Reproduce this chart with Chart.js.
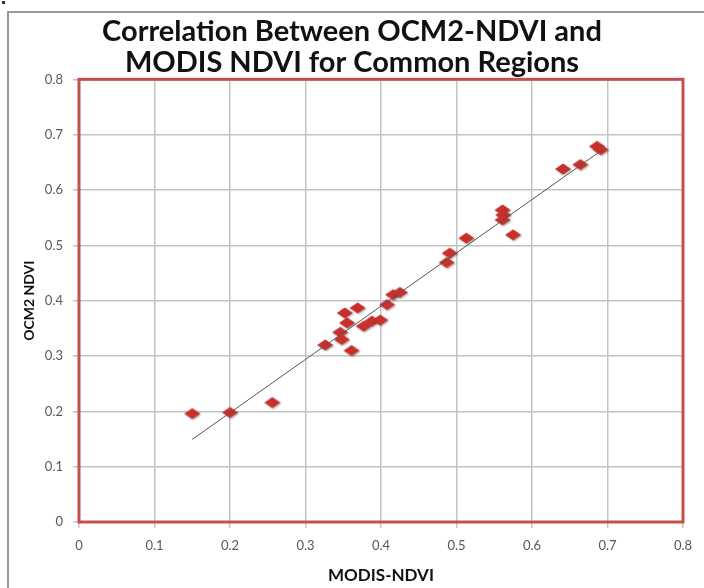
<!DOCTYPE html>
<html>
<head>
<meta charset="utf-8">
<script src="https://cdn.jsdelivr.net/npm/chart.js@4.4.1/dist/chart.umd.min.js"></script>
<style>
  html, body { margin: 0; padding: 0; background: #fff; }
  #wrap { position: relative; width: 704px; height: 588px; overflow: hidden; }
  #frame { position: absolute; left: 7px; top: 11px; width: 720px; height: 600px;
           border-left: 2px solid #9a9a9a; border-top: 2px solid #9a9a9a; }
  #speck { position: absolute; left: 2px; top: 1px; width: 3px; height: 3px; background: #333; }
  canvas { position: absolute; left: 0; top: 0; }
</style>
</head>
<body>
<div id="wrap">
  <div id="speck"></div>
  <div id="frame"></div>
  <canvas id="ndviChart" width="704" height="588"></canvas>
</div>
<script>
// values
const modisNdvi = [0.150, 0.200, 0.256, 0.326, 0.346, 0.348, 0.352, 0.355, 0.361,
                   0.369, 0.377, 0.388, 0.399, 0.408, 0.416, 0.425, 0.487, 0.491,
                   0.513, 0.561, 0.562, 0.561, 0.575, 0.641, 0.664, 0.686, 0.691];
const ocm2Ndvi  = [0.195, 0.197, 0.215, 0.319, 0.342, 0.329, 0.377, 0.359, 0.309,
                   0.386, 0.353, 0.362, 0.364, 0.392, 0.410, 0.414, 0.468, 0.485,
                   0.512, 0.563, 0.554, 0.545, 0.518, 0.637, 0.645, 0.678, 0.672];
const xTickLabels = ['0', '0.1', '0.2', '0.3', '0.4', '0.5', '0.6', '0.7', '0.8'];
const yTickLabels = ['0', '0.1', '0.2', '0.3', '0.4', '0.5', '0.6', '0.7', '0.8'];
const titleLines = ['Correlation Between OCM2-NDVI and', 'MODIS NDVI for Common Regions'];

document.addEventListener('DOMContentLoaded', () => {
    const ctx = document.getElementById('ndviChart').getContext('2d');
    const fontFamily = 'Lato, "Open Sans", sans-serif';

    const points = modisNdvi.map((x, i) => ({ x: x, y: ocm2Ndvi[i] }));

    // linear trend line, like the spreadsheet one
    const n = points.length;
    const meanX = modisNdvi.reduce((a, b) => a + b, 0) / n;
    const meanY = ocm2Ndvi.reduce((a, b) => a + b, 0) / n;
    let sxy = 0, sxx = 0;
    points.forEach(p => {
        sxy += (p.x - meanX) * (p.y - meanY);
        sxx += (p.x - meanX) * (p.x - meanX);
    });
    const slope = sxy / sxx;
    const intercept = meanY - slope * meanX;
    const xMin = Math.min(...modisNdvi);
    const xMax = Math.max(...modisNdvi);
    const trend = [
        { x: xMin, y: intercept + slope * xMin },
        { x: xMax, y: intercept + slope * xMax }
    ];

    // diamond marker, a bit wider than tall
    const marker = document.createElement('canvas');
    marker.width = 20;
    marker.height = 15;
    const m = marker.getContext('2d');
    m.shadowColor = 'rgba(0,0,0,0.35)';
    m.shadowBlur = 2;
    m.shadowOffsetX = 1;
    m.shadowOffsetY = 1;
    m.fillStyle = '#c8302c';
    m.beginPath();
    m.moveTo(2, 7);
    m.lineTo(10, 1.5);
    m.lineTo(18, 7);
    m.lineTo(10, 12.5);
    m.closePath();
    m.fill();

    const plotBorder = {
        id: 'plotBorder',
        afterDraw(chart) {
            const a = chart.chartArea;
            const c = chart.ctx;
            c.save();
            c.strokeStyle = '#c4504c';
            c.lineWidth = 3;
            c.strokeRect(a.left, a.top, a.right - a.left, a.bottom - a.top);
            c.restore();
        }
    };

    new Chart(ctx, {
        type: 'scatter',
        data: {
            datasets: [
                {
                    type: 'line',
                    label: 'Trend',
                    data: trend,
                    borderColor: '#555555',
                    borderWidth: 1,
                    pointRadius: 0,
                    fill: false,
                    order: 0
                },
                {
                    label: 'OCM2 NDVI',
                    data: points,
                    pointStyle: marker,
                    pointRadius: 8,
                    order: 1
                }
            ]
        },
        options: {
            responsive: false,
            animation: false,
            layout: { padding: { left: 21, right: 21, top: 0, bottom: 0 } },
            plugins: {
                legend: { display: false },
                tooltip: { enabled: false },
                title: {
                    display: true,
                    text: titleLines,
                    color: '#111111',
                    font: { family: fontFamily, size: 29, weight: 'bold', lineHeight: 1.04 },
                    padding: { top: 17, bottom: 2 }
                }
            },
            scales: {
                x: {
                    type: 'linear',
                    min: 0,
                    max: 0.8,
                    afterFit: scale => { scale.height = 66; },
                    ticks: {
                        stepSize: 0.1,
                        padding: 10,
                        color: '#595959',
                        font: { family: fontFamily, size: 13 },
                        callback: (v, i) => xTickLabels[i] ?? v
                    },
                    grid: { color: '#c4c4c4', lineWidth: 1.5, tickLength: 6 },
                    border: { display: false },
                    title: {
                        display: true,
                        text: 'MODIS-NDVI',
                        color: '#111111',
                        font: { family: fontFamily, size: 17, weight: 'bold' },
                        padding: { top: 0, bottom: 2 }
                    }
                },
                y: {
                    type: 'linear',
                    min: 0,
                    max: 0.8,
                    afterFit: scale => { scale.width = 58; },
                    ticks: {
                        stepSize: 0.1,
                        padding: 10,
                        color: '#595959',
                        font: { family: fontFamily, size: 13 },
                        callback: (v, i) => yTickLabels[i] ?? v
                    },
                    grid: { color: '#c4c4c4', lineWidth: 1.5, tickLength: 6 },
                    border: { display: false },
                    title: {
                        display: true,
                        text: 'OCM2 NDVI',
                        color: '#111111',
                        font: { family: fontFamily, size: 14, weight: 'bold' },
                        padding: { top: 0, bottom: 0 }
                    }
                }
            }
        },
        plugins: [plotBorder]
    });
});
</script>
</body>
</html>
